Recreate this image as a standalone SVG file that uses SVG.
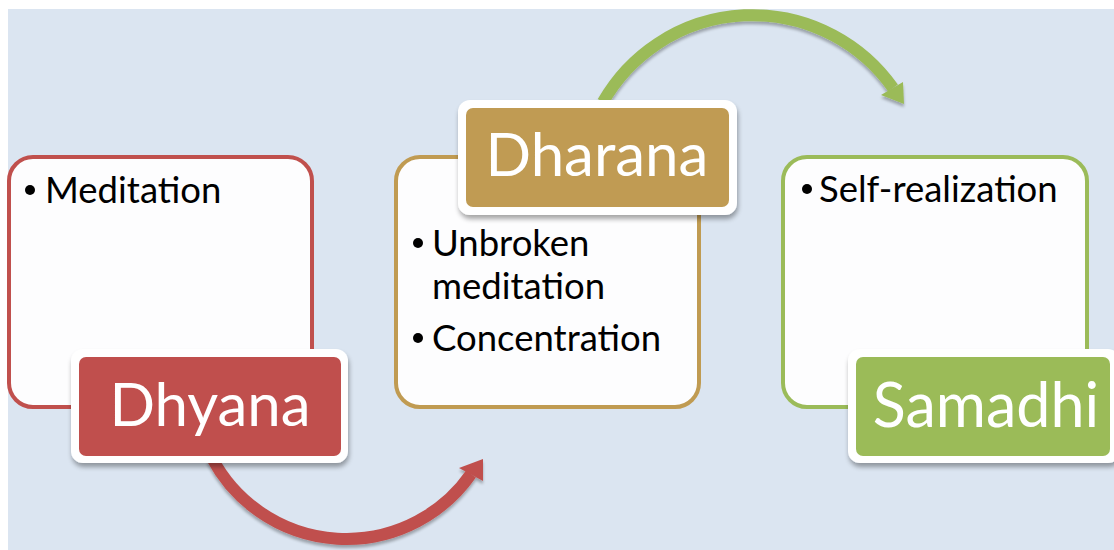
<svg xmlns="http://www.w3.org/2000/svg" width="1114" height="550" viewBox="0 0 1114 550">
  <defs>
    <filter id="sh" x="-10%" y="-10%" width="125%" height="130%">
      <feGaussianBlur in="SourceAlpha" stdDeviation="2.5"/>
      <feOffset dx="1" dy="4" result="b"/>
      <feComponentTransfer><feFuncA type="linear" slope="0.35"/></feComponentTransfer>
      <feMerge><feMergeNode/><feMergeNode in="SourceGraphic"/></feMerge>
    </filter>
    <filter id="ash" x="-10%" y="-10%" width="120%" height="130%">
      <feGaussianBlur in="SourceAlpha" stdDeviation="1.5"/>
      <feOffset dx="0" dy="3" result="b"/>
      <feComponentTransfer><feFuncA type="linear" slope="0.3"/></feComponentTransfer>
      <feMerge><feMergeNode/><feMergeNode in="SourceGraphic"/></feMerge>
    </filter>
    <style>
      .info { fill: #fdfdfe; stroke-width: 4; }
      .lblout { fill: #ffffff; }
      .lbl { font-family: Lato, "Open Sans", "Liberation Sans", sans-serif; font-size: 60px; fill: #ffffff; text-anchor: middle; }
      .txt { font-family: Lato, "Open Sans", "Liberation Sans", sans-serif; font-size: 36.5px; fill: #000000; }
      .arc { fill: none; stroke-width: 12; }
    </style>
  </defs>
  <rect x="0" y="0" width="1114" height="550" fill="#ffffff"/>
  <rect x="8" y="9" width="1106" height="541" fill="#dbe5f1"/>

  <g id="connectors">
    <g filter="url(#ash)">
      <path class="arc" stroke="#c0504d" d="M 212 458 A 152 152 0 0 0 471 474"/>
      <polygon fill="#c0504d" points="483,459 459,468 483,481"/>
    </g>
    <g filter="url(#ash)">
      <path class="arc" stroke="#9bbb59" d="M 603 102 A 172 172 0 0 1 893 88"/>
      <polygon fill="#9bbb59" points="903,82 881,95 904,104"/>
    </g>
  </g>

  <g id="dhyana">
    <rect class="info" stroke="#c0504d" x="9" y="157" width="303" height="250" rx="24"/>
    <circle cx="30" cy="190" r="5" fill="#000"/>
    <text class="txt" x="45" y="203">Meditation</text>
    <g filter="url(#sh)">
      <rect class="lblout" x="71" y="349" width="277" height="114" rx="12"/>
      <rect fill="#c0504d" x="79" y="357" width="262" height="99" rx="7"/>
    </g>
    <text class="lbl" x="210" y="426">Dhyana</text>
  </g>

  <g id="dharana">
    <rect class="info" stroke="#c09b52" x="396" y="157" width="303" height="250" rx="24"/>
    <circle cx="418" cy="243" r="5" fill="#000"/>
    <text class="txt" x="432" y="256">Unbroken</text>
    <text class="txt" x="432" y="299">meditation</text>
    <circle cx="418" cy="338" r="5" fill="#000"/>
    <text class="txt" x="432" y="351">Concentration</text>
    <g filter="url(#sh)">
      <rect class="lblout" x="458" y="100" width="279" height="115" rx="12"/>
      <rect fill="#c09b52" x="466" y="108" width="263" height="99" rx="7"/>
    </g>
    <text class="lbl" x="597" y="176">Dharana</text>
  </g>

  <g id="samadhi">
    <rect class="info" stroke="#9bbb59" x="783" y="157" width="304" height="250" rx="24"/>
    <circle cx="807" cy="189" r="5" fill="#000"/>
    <text class="txt" x="819" y="202">Self-realization</text>
    <g filter="url(#sh)">
      <rect class="lblout" x="848" y="349" width="272" height="114" rx="12"/>
      <rect fill="#9bbb59" x="856" y="357" width="254" height="99" rx="7"/>
    </g>
    <text class="lbl" x="986" y="427" style="font-size:61px">Samadhi</text>
  </g>
</svg>
